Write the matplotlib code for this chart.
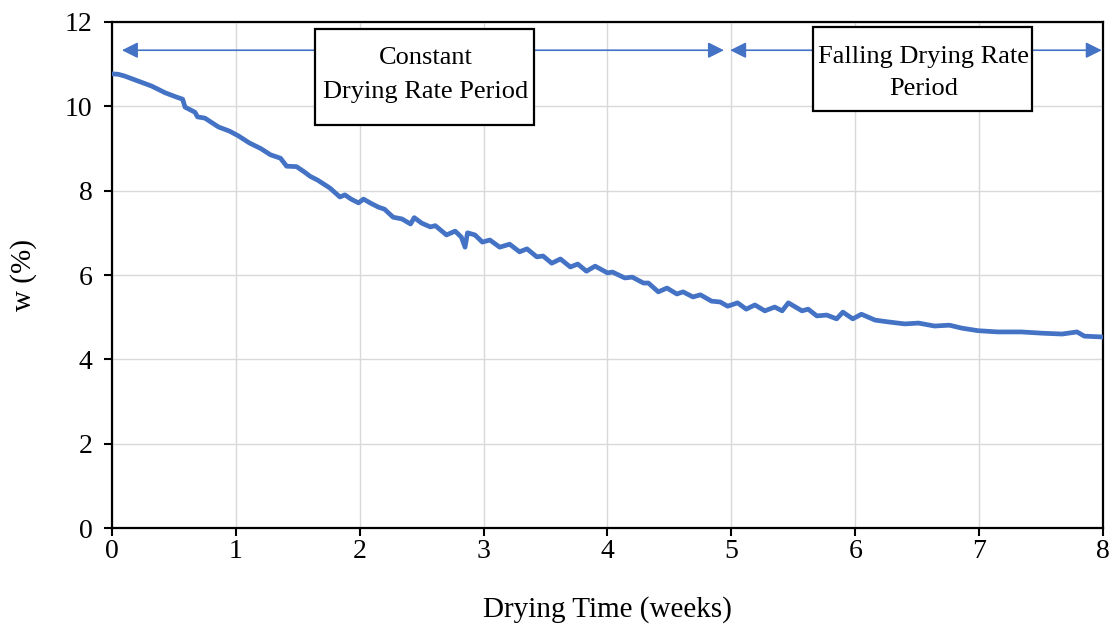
import matplotlib
matplotlib.use("Agg")
import matplotlib.pyplot as plt
from matplotlib.patches import Rectangle

# drying curve
time_weeks = [
    0.00, 0.05, 0.10, 0.21, 0.32, 0.43, 0.52, 0.57, 0.59, 0.67, 0.69, 0.75,
    0.86, 0.95, 1.02, 1.11, 1.20, 1.28, 1.36, 1.41, 1.49, 1.55, 1.60, 1.66,
    1.76, 1.84, 1.88, 1.93, 1.99, 2.03, 2.09, 2.15, 2.20, 2.27, 2.34, 2.41,
    2.44, 2.50, 2.57, 2.61, 2.70, 2.77, 2.82, 2.85, 2.87, 2.93, 2.99, 3.05,
    3.13, 3.21, 3.29, 3.35, 3.43, 3.48, 3.55, 3.62, 3.70, 3.76, 3.83, 3.90,
    4.00, 4.04, 4.14, 4.20, 4.29, 4.33, 4.41, 4.48, 4.56, 4.61, 4.69, 4.75,
    4.84, 4.91, 4.97, 5.05, 5.12, 5.19, 5.27, 5.35, 5.41, 5.46, 5.57, 5.62,
    5.69, 5.77, 5.85, 5.90, 5.98, 6.05, 6.16, 6.26, 6.40, 6.51, 6.64, 6.76,
    6.86, 6.99, 7.15, 7.34, 7.51, 7.67, 7.79, 7.85, 8.00,
]
moisture = [
    10.77, 10.76, 10.72, 10.60, 10.48, 10.32, 10.22, 10.17, 9.98, 9.86, 9.75, 9.72,
    9.51, 9.41, 9.30, 9.13, 9.00, 8.85, 8.77, 8.58, 8.57, 8.45, 8.34, 8.25,
    8.06, 7.85, 7.90, 7.80, 7.71, 7.80, 7.70, 7.61, 7.56, 7.37, 7.33, 7.21,
    7.36, 7.23, 7.14, 7.17, 6.95, 7.04, 6.90, 6.66, 7.00, 6.95, 6.78, 6.83,
    6.66, 6.73, 6.55, 6.62, 6.43, 6.45, 6.28, 6.38, 6.19, 6.26, 6.09, 6.21,
    6.05, 6.07, 5.93, 5.95, 5.81, 5.81, 5.60, 5.69, 5.55, 5.60, 5.48, 5.53,
    5.38, 5.36, 5.26, 5.34, 5.19, 5.29, 5.15, 5.24, 5.15, 5.34, 5.15, 5.19,
    5.03, 5.05, 4.96, 5.12, 4.96, 5.07, 4.93, 4.89, 4.84, 4.86, 4.79, 4.81,
    4.74, 4.68, 4.65, 4.65, 4.62, 4.60, 4.65, 4.55, 4.53,
]

x_ticks = [0, 1, 2, 3, 4, 5, 6, 7, 8]
y_ticks = [0, 2, 4, 6, 8, 10, 12]

blue = "#4472C4"
plt.rcParams["font.family"] = ["Liberation Serif", "DejaVu Serif"]

fig = plt.figure(figsize=(11.11, 6.28), dpi=100)
ax = fig.add_axes([0.1008, 0.1592, 0.892, 0.8058])

ax.plot(time_weeks, moisture, color=blue, linewidth=3.4, zorder=3)

ax.set_xlim(0, 8)
ax.set_ylim(0, 12)
ax.set_xticks(x_ticks)
ax.set_yticks(y_ticks)
ax.tick_params(direction="out", length=6, width=1.5, labelsize=20)
ax.tick_params(axis="x", pad=2)
ax.tick_params(axis="y", pad=8)
ax.grid(True, color="#d9d9d9", linewidth=1)
ax.set_axisbelow(True)
for s in ax.spines.values():
    s.set_linewidth(1.6)
    s.set_color("black")

ax.set_xlabel("Drying Time (weeks)", fontsize=21, labelpad=23)
ax.set_ylabel("w (%)", fontsize=21, labelpad=20)

# period arrows
arrow_y = 11.33
ax.annotate("", xy=(0.08, arrow_y), xytext=(4.94, arrow_y),
            arrowprops=dict(arrowstyle="<|-|>", color=blue, lw=1.2,
                            mutation_scale=24, shrinkA=0, shrinkB=0), zorder=4)
ax.annotate("", xy=(4.99, arrow_y), xytext=(7.99, arrow_y),
            arrowprops=dict(arrowstyle="<|-|>", color=blue, lw=1.2,
                            mutation_scale=24, shrinkA=0, shrinkB=0), zorder=4)

# label boxes
ax.add_patch(Rectangle((1.64, 9.56), 1.77, 2.27, facecolor="white",
                       edgecolor="black", linewidth=1.6, zorder=5))
ax.text(2.53, 10.74, "Constant\nDrying Rate Period", ha="center", va="center",
        fontsize=19, linespacing=1.7, zorder=6)
ax.add_patch(Rectangle((5.66, 9.89), 1.77, 1.99, facecolor="white",
                       edgecolor="black", linewidth=1.6, zorder=5))
ax.text(6.55, 10.79, "Falling Drying Rate\nPeriod", ha="center", va="center",
        fontsize=19, linespacing=1.6, zorder=6)

fig.savefig("out.png", dpi=100)
